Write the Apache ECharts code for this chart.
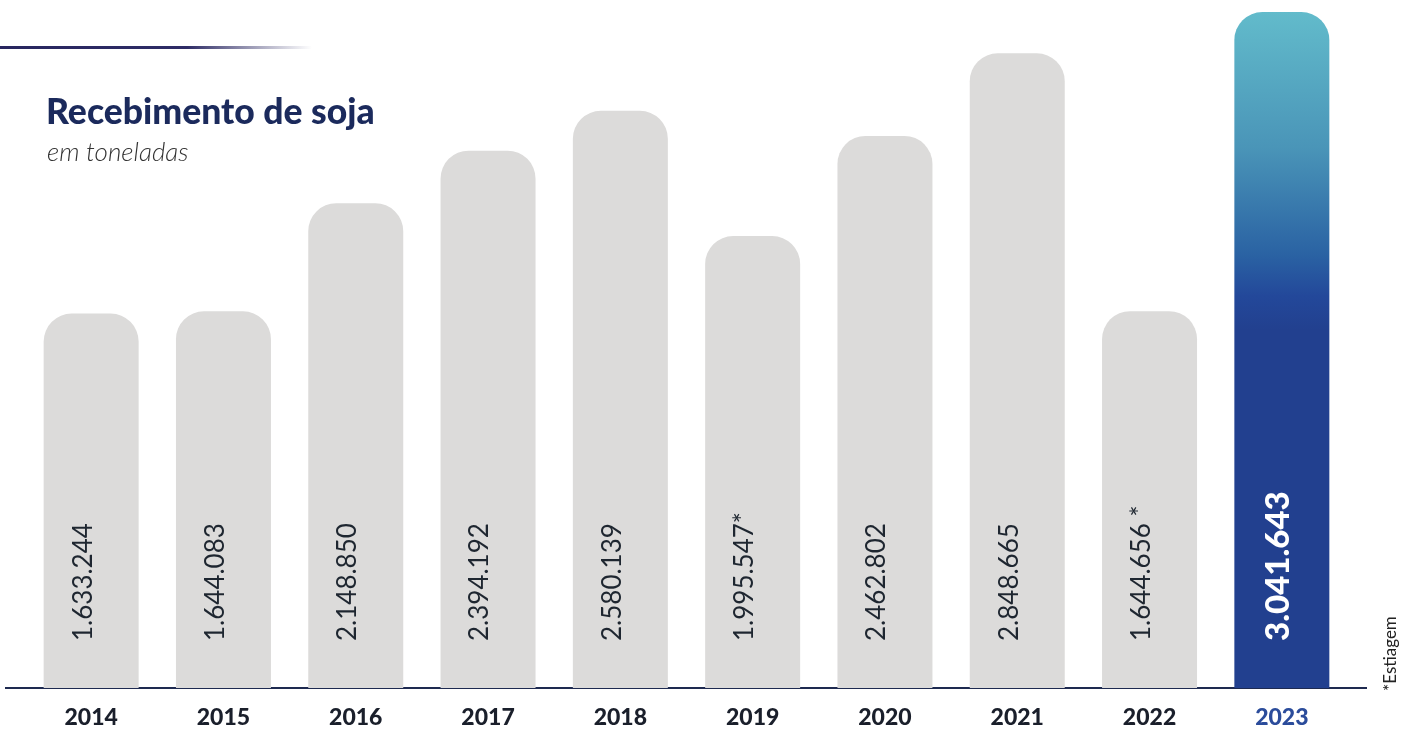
<!DOCTYPE html>
<html>
<head>
<meta charset="utf-8">
<script src="https://cdn.jsdelivr.net/npm/echarts@6/dist/echarts.min.js"></script>
<style>
html,body{margin:0;padding:0;background:#fff;}
#chart{width:1411px;height:731px;}
</style>
</head>
<body>
<div id="chart"></div>
<script>
var years = ['2014','2015','2016','2017','2018','2019','2020','2021','2022','2023'];
var values = [1633244, 1644083, 2148850, 2394192, 2580139, 1995547, 2462802, 2848665, 1644656, 3041643];
var labelSuffix = ['', '', '', '', '', '*', '', '', ' *', ''];
var highlightYear = '2023';
var titleText = 'Recebimento de soja';
var subtitleText = 'em toneladas';
var footnoteText = '*Estiagem';

var FONT = 'Lato';
var yMin = -115000;
var yMax = 3041643;

function fmt(v){
  return String(v).replace(/\B(?=(\d{3})+(?!\d))/g, '.');
}

var chart = echarts.init(document.getElementById('chart'));

var option = {
  backgroundColor: '#ffffff',
  animation: false,
  title: [{
    text: titleText,
    left: 41,
    top: 90,
    textStyle: { fontFamily: FONT, fontSize: 35.5, fontWeight: 900, color: '#1B2A5C' }
  }, {
    text: subtitleText,
    left: 42,
    top: 135,
    textStyle: { fontFamily: FONT, fontSize: 26, fontStyle: 'italic', fontWeight: 300, color: '#333333' }
  }],
  grid: { left: 25, right: 63, top: 12, bottom: 43 },
  xAxis: {
    type: 'category',
    data: years,
    axisLine: { show: false },
    axisTick: { show: false },
    axisLabel: {
      margin: 18,
      fontFamily: FONT,
      fontSize: 23,
      fontWeight: 900,
      color: function (v) { return v === highlightYear ? '#2B4C9B' : '#1A1F2B'; }
    }
  },
  yAxis: {
    type: 'value',
    min: yMin,
    max: yMax,
    show: false,
    splitLine: { show: false }
  },
  series: [{
    type: 'custom',
    data: years.map(function (y, i) { return [i, values[i]]; }),
    renderItem: function (params, api) {
      var i = params.dataIndex;
      var top = api.coord([api.value(0), api.value(1)]);
      var base = api.coord([api.value(0), yMin]);
      var w = api.size([1, 0])[0] * 0.718;
      var hl = years[i] === highlightYear;
      var fill = hl ? new echarts.graphic.LinearGradient(0, 0, 0, 1, [
        { offset: 0, color: '#62BBCB' },
        { offset: 0.2, color: '#4A95B8' },
        { offset: 0.36, color: '#2A62A3' },
        { offset: 0.42, color: '#23489A' },
        { offset: 0.47, color: '#22408F' },
        { offset: 1, color: '#22408F' }
      ]) : '#DCDBDA';
      return {
        type: 'group',
        children: [{
          type: 'rect',
          shape: { x: top[0] - w / 2, y: top[1], width: w, height: base[1] - top[1], r: [28, 28, 0, 0] },
          style: { fill: fill }
        }, {
          type: 'text',
          x: top[0] + (hl ? -3 : -8),
          y: base[1] - 47,
          rotation: Math.PI / 2,
          style: {
            text: fmt(values[i]) + labelSuffix[i],
            fontFamily: FONT,
            fontSize: hl ? 33 : 26,
            fontWeight: hl ? 900 : 400,
            fill: hl ? '#FFFFFF' : '#1E2630',
            align: 'left',
            verticalAlign: 'middle'
          }
        }]
      };
    }
  }],
  graphic: [{
    type: 'rect',
    left: 0,
    top: 46,
    shape: { width: 312, height: 3 },
    style: {
      fill: new echarts.graphic.LinearGradient(0, 0, 1, 0, [
        { offset: 0, color: '#28265F' },
        { offset: 0.6, color: '#2E2C66' },
        { offset: 1, color: 'rgba(60,58,110,0)' }
      ])
    }
  }, {
    type: 'line',
    shape: { x1: 5, y1: 688, x2: 1367, y2: 688 },
    style: { stroke: '#1E2A50', lineWidth: 2 }
  }, {
    type: 'text',
    x: 1391,
    y: 691,
    rotation: Math.PI / 2,
    style: {
      text: footnoteText,
      fontFamily: FONT,
      fontSize: 17,
      fill: '#222222',
      align: 'left',
      verticalAlign: 'middle'
    }
  }]
};

chart.setOption(option);
</script>
</body>
</html>
